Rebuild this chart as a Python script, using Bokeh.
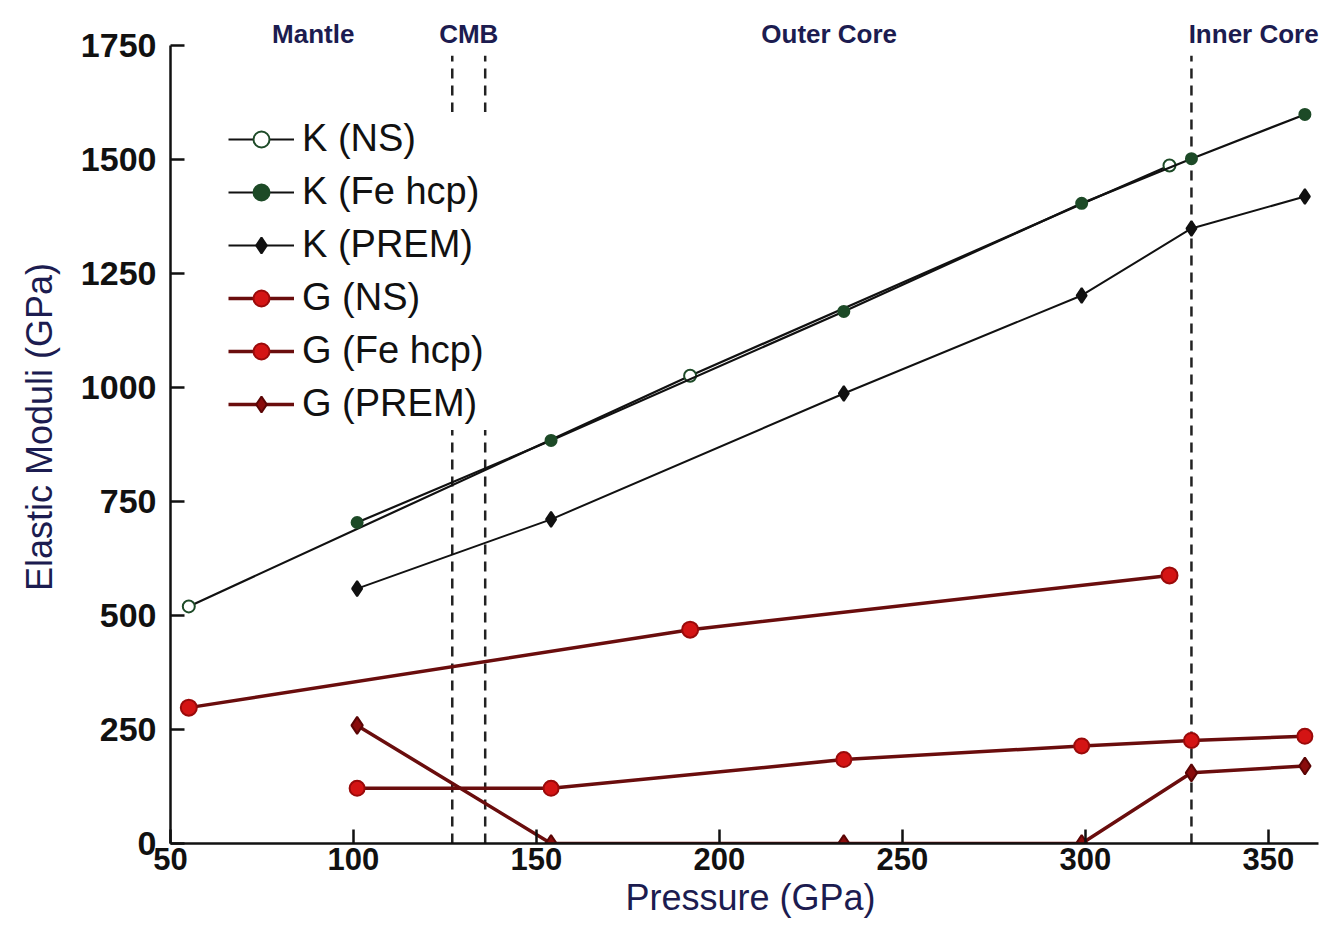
from bokeh.plotting import figure
from bokeh.models import Range1d, Legend, LegendItem, FixedTicker
from bokeh.core.properties import value
from bokeh.embed import file_html
from bokeh.resources import INLINE

# ---- data ----
k_ns_p = [55, 192, 323]
k_ns_v = [520, 1026, 1487]

k_fe_p = [101, 154, 234, 299, 329, 360]
k_fe_v = [704, 884, 1167, 1404, 1502, 1599]

k_prem_p = [101, 154, 234, 299, 329, 360]
k_prem_v = [559, 711, 987, 1202, 1349, 1419]

g_ns_p = [55, 192, 323]
g_ns_v = [298, 469, 588]

g_fe_p = [101, 154, 234, 299, 329, 360]
g_fe_v = [121, 121, 184, 214, 226, 235]

g_prem_p = [101, 154, 234, 299, 329, 360]
g_prem_v = [259, 0, 0, 0, 155, 170]

boundary_p = [127, 136, 329]
boundary_top = 1728

region_names = ["Mantle", "CMB", "Outer Core", "Inner Core"]
region_p = [89, 131.5, 230, 346]
region_label_y = 1776

x_ticks = [50, 100, 150, 200, 250, 300, 350]
y_ticks = [0, 250, 500, 750, 1000, 1250, 1500, 1750]

# ---- figure ----
p = figure(width=1332, height=939,
           x_range=Range1d(50, 367), y_range=Range1d(0, 1827),
           output_backend="svg", toolbar_location=None,
           min_border_left=170, min_border_right=2,
           min_border_top=10, min_border_bottom=96)
p.outline_line_color = None
p.xgrid.visible = False
p.ygrid.visible = False
p.background_fill_color = "white"
p.border_fill_color = "white"

# axes
for ax in (p.xaxis[0], p.yaxis[0]):
    ax.axis_line_width = 2.5
    ax.axis_line_color = "#111111"
    ax.major_tick_line_width = 2.5
    ax.major_tick_line_color = "#111111"
    ax.major_tick_in = 14
    ax.major_tick_out = 0
    ax.minor_tick_line_color = None
    ax.major_label_text_color = "#111111"
    ax.axis_label_text_color = "#1c1c50"
    ax.axis_label_text_font_style = "normal"

p.xaxis.ticker = FixedTicker(ticks=x_ticks)
p.yaxis.ticker = FixedTicker(ticks=y_ticks)
p.yaxis.bounds = (0, 1750)
p.xaxis.bounds = (50, 363.7)

p.xaxis.major_label_text_font = "Liberation Sans"
p.xaxis.major_label_text_font_style = "bold"
p.xaxis.major_label_text_font_size = "31px"
p.xaxis.major_label_standoff = 4
p.xaxis.axis_label = "Pressure (GPa)"
p.xaxis.axis_label_text_font = "Liberation Sans"
p.xaxis.axis_label_text_font_size = "36px"
p.xaxis.axis_label_standoff = 4

p.yaxis.major_label_text_font = "Liberation Sans"
p.yaxis.major_label_text_font_style = "bold"
p.yaxis.major_label_text_font_size = "34px"
p.yaxis.major_label_standoff = 14
p.yaxis.axis_label = "Elastic Moduli (GPa)"
p.yaxis.axis_label_text_font = "Liberation Sans"
p.yaxis.axis_label_text_font_size = "36px"
p.yaxis.axis_label_standoff = 18

# boundaries
p.segment(x0=boundary_p, y0=[0] * len(boundary_p), x1=boundary_p,
          y1=[boundary_top] * len(boundary_p),
          line_color="#222222", line_width=2.5, line_dash="10 7")

# region labels
p.text(x=region_p, y=[region_label_y] * len(region_p), text=region_names,
       text_font=value("Liberation Sans"), text_font_style="bold",
       text_font_size="26px", text_color="#1c1c50",
       text_align="center", text_baseline="middle")

K_LINE = "#111111"
G_LINE = "#6a0d0d"
GREEN = "#1d4a27"
RED = "#d41414"

items = []

def series(xs, ys, line_color, line_width, marker, size, fill, mline, label):
    l = p.line(xs, ys, line_color=line_color, line_width=line_width)
    s = p.scatter(xs, ys, marker=marker, size=size, fill_color=fill,
                  line_color=mline, line_width=2)
    items.append(LegendItem(label=label, renderers=[l, s]))

series(k_ns_p, k_ns_v, K_LINE, 2.2, "circle", 12, "white", GREEN, "K (NS)")
series(k_fe_p, k_fe_v, K_LINE, 2.2, "circle", 11, GREEN, GREEN, "K (Fe hcp)")
series(k_prem_p, k_prem_v, K_LINE, 2.0, "diamond", 15, "#111111", "#111111", "K (PREM)")
series(g_ns_p, g_ns_v, G_LINE, 3.5, "circle", 16, RED, "#9a0a0a", "G (NS)")
series(g_fe_p, g_fe_v, G_LINE, 3.5, "circle", 15, RED, "#9a0a0a", "G (Fe hcp)")
series(g_prem_p, g_prem_v, G_LINE, 3.5, "diamond", 17, "#8a0c0c", "#5a0505", "G (PREM)")

legend = Legend(items=items, location=(53, 413))
legend.label_text_font = "Liberation Sans"
legend.label_text_font_size = "38px"
legend.label_text_color = "#111111"
legend.glyph_width = 66
legend.glyph_height = 40
legend.label_height = 40
legend.spacing = 10
legend.padding = 5
legend.margin = 0
legend.label_standoff = 8
legend.border_line_alpha = 0
legend.background_fill_color = "white"
legend.background_fill_alpha = 1.0
p.add_layout(legend)

open("out.html", "w").write(file_html(p, INLINE))
